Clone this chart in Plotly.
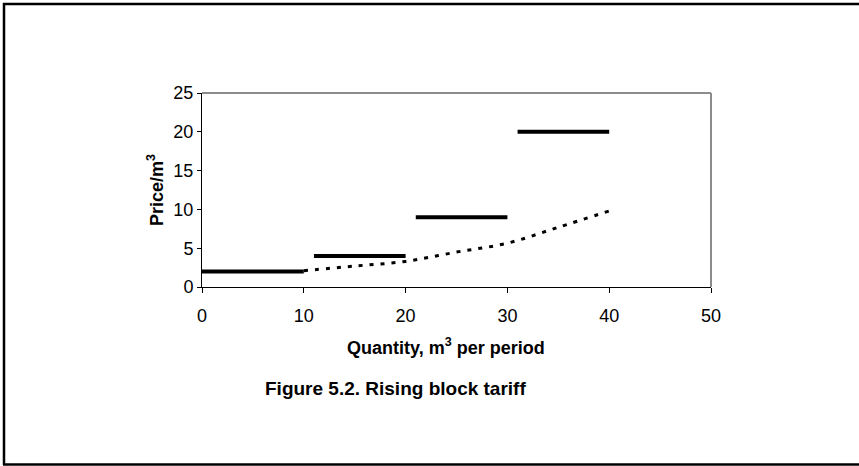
import plotly.graph_objects as go

# Block tariff data
block_start = [0, 11, 21, 31]
block_end = [10, 20, 30, 40]
block_price = [2, 4, 9, 20]

# Dotted trend curve
curve_x = [10, 15, 20, 25, 30, 35, 40]
curve_y = [2.1, 2.7, 3.3, 4.5, 5.65, 7.7, 9.8]

x_ticks = [0, 10, 20, 30, 40, 50]
y_ticks = [0, 5, 10, 15, 20, 25]

FONT = "Liberation Sans, Arial, sans-serif"

fig = go.Figure()

fig.add_trace(go.Scatter(
    x=curve_x, y=curve_y, mode="lines", line_shape="spline",
    line=dict(color="black", width=3, dash="4px,7px"),
    hoverinfo="skip", showlegend=False))

for s, e, p in zip(block_start, block_end, block_price):
    fig.add_trace(go.Scatter(
        x=[s, e], y=[p, p], mode="lines",
        line=dict(color="black", width=4),
        showlegend=False))

FIG_W, FIG_H = 859, 466
L, T, W, H = 202, 93, 509, 194
def px(x):
    return (x - L) / W
def py(y):
    return (T + H - y) / H

shapes = [
    # plot area gray border (top/right)
    dict(type="line", xref="paper", yref="paper", x0=0, x1=1, y0=1, y1=1,
         line=dict(color="#8c8c8c", width=2)),
    dict(type="line", xref="paper", yref="paper", x0=1, x1=1, y0=0, y1=1,
         line=dict(color="#8c8c8c", width=2)),
    # outer frame (open on the right)
    dict(type="line", xref="paper", yref="paper", x0=px(3), x1=px(FIG_W + 3), y0=py(4), y1=py(4),
         line=dict(color="black", width=2.5)),
    dict(type="line", xref="paper", yref="paper", x0=px(4), x1=px(4), y0=py(3), y1=py(465),
         line=dict(color="black", width=2.5)),
    dict(type="line", xref="paper", yref="paper", x0=px(3), x1=px(FIG_W + 3), y0=py(464.5), y1=py(464.5),
         line=dict(color="black", width=2.5)),
]

annotations = [
    dict(text="Price/m<sup>3</sup>", xref="paper", yref="paper", x=px(155), y=py(190),
         xanchor="center", yanchor="middle", textangle=-90, showarrow=False,
         font=dict(family=FONT, size=18, color="black", weight="bold")),
    dict(text="Quantity, m<sup>3</sup> per period", xref="paper", yref="paper",
         x=px(446), y=py(346), xanchor="center", yanchor="middle", showarrow=False,
         font=dict(family=FONT, size=18, color="black", weight="bold")),
    dict(text="Figure 5.2. Rising block tariff", xref="paper", yref="paper",
         x=px(395), y=py(388), xanchor="center", yanchor="middle", showarrow=False,
         font=dict(family=FONT, size=19, color="black", weight="bold")),
]

fig.update_layout(
    width=FIG_W, height=FIG_H,
    margin=dict(l=L, r=FIG_W - L - W, t=T, b=FIG_H - T - H, pad=0),
    paper_bgcolor="white", plot_bgcolor="white",
    font=dict(family=FONT, size=18, color="black"),
    shapes=shapes, annotations=annotations,
    xaxis=dict(range=[0, 50], tickvals=x_ticks, ticktext=[str(v) for v in x_ticks],
               showgrid=False, zeroline=False, showline=True, linecolor="black", linewidth=1,
               ticks="outside", ticklen=5, tickcolor="black", tickfont=dict(size=18),
               ticklabelstandoff=7),
    yaxis=dict(range=[0, 25], tickvals=y_ticks, ticktext=[str(v) for v in y_ticks],
               showgrid=False, zeroline=False, showline=True, linecolor="black", linewidth=1,
               ticks="outside", ticklen=4, tickcolor="black", tickfont=dict(size=18)),
)

fig.write_html(
    "out.html", config={"displayModeBar": False},
    post_script=(
        "document.documentElement.style.margin='0';"
        "document.documentElement.style.overflow='hidden';"
        "document.body.style.margin='0';"
        "document.body.style.overflow='hidden';"
        "var c=document.createElement('div');"
        "c.style.cssText='position:fixed;left:840px;top:7px;width:40px;height:455px;"
        "background:#fff;z-index:99999;pointer-events:none;';"
        "document.body.appendChild(c);"
    ),
)
